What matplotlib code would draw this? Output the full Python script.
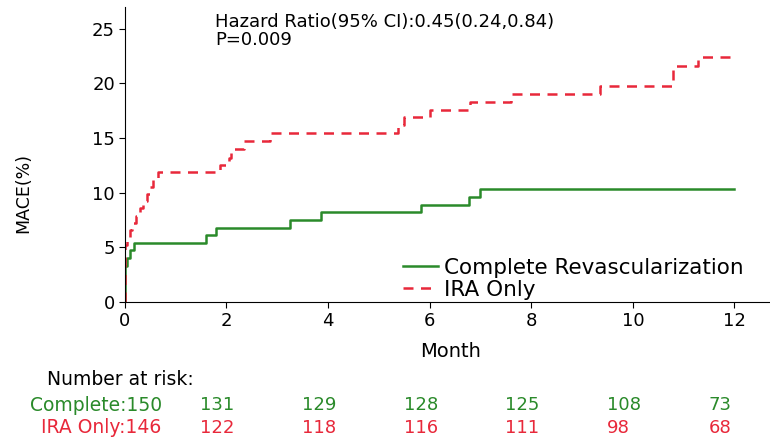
import numpy as np
import matplotlib.pyplot as plt

plt.rcParams['font.family'] = ['DejaVu Sans']

# step times (months) and cumulative MACE (%)
cr_t = [0, 0, 0.05, 0.10, 0.18, 1.59, 1.80, 3.25, 3.87, 5.84, 6.78, 7.00, 12.0]
cr_y = [0, 3.3, 4.0, 4.7, 5.4, 6.1, 6.8, 7.5, 8.2, 8.9, 9.6, 10.3, 10.3]

ira_t = [0, 0, 0.04, 0.10, 0.15, 0.22, 0.30, 0.36, 0.43, 0.50, 0.56, 0.66,
         1.87, 2.05, 2.10, 2.35, 2.85, 5.37, 5.50, 6.00, 6.79, 7.60, 9.35,
         10.80, 11.28, 12.0]
ira_y = [0, 5.2, 5.9, 6.6, 7.2, 7.9, 8.6, 9.2, 9.9, 10.5, 11.2, 11.9,
         12.5, 13.2, 14.0, 14.7, 15.5, 16.2, 16.9, 17.6, 18.3, 19.0, 19.8,
         21.6, 22.4, 22.4]

risk_months = [0, 2, 4, 6, 8, 10, 12]
risk_cr = [150, 131, 129, 128, 125, 108, 73]
risk_ira = [146, 122, 118, 116, 111, 98, 68]

green = '#2a8a2a'
red = '#e8283a'

fig = plt.figure(figsize=(7.7, 4.38), dpi=100)
ax = fig.add_axes([0.162, 0.311, 0.838, 0.673])

ax.plot(cr_t, cr_y, drawstyle='steps-post', color=green, lw=1.8,
        label='Complete Revascularization')
ax.plot(ira_t, ira_y, drawstyle='steps-post', color=red, lw=1.8,
        dashes=(4, 3), label='IRA Only')

ax.set_xlim(0, 12.7)
ax.set_ylim(0, 27)
ax.set_xticks([0, 2, 4, 6, 8, 10, 12])
ax.set_yticks([0, 5, 10, 15, 20, 25])
ax.tick_params(labelsize=13, length=4, width=0.8, pad=3)
ax.spines['top'].set_visible(False)
ax.spines['right'].set_visible(False)
ax.set_xlabel('Month', fontsize=14)
ax.xaxis.set_label_coords(0.505, -0.138)
ax.set_ylabel('MACE(%)', fontsize=12.5)
ax.yaxis.set_label_coords(-0.143, 0.37)

fig.text(0.279, 0.970, 'Hazard Ratio(95% CI):0.45(0.24,0.84)\nP=0.009',
         fontsize=13, va='top', ha='left', linespacing=1.02)

ax.legend(loc='upper left', bbox_to_anchor=(0.523, 0.412),
          bbox_transform=fig.transFigure, frameon=False,
          fontsize=15.5, handlelength=1.65, handletextpad=0.25,
          labelspacing=0.1, borderpad=0, borderaxespad=0)

# number at risk table
fig.text(0.061, 0.133, 'Number at risk:', fontsize=13.5, va='center')
fig.text(0.21, 0.075, 'Complete:%d' % risk_cr[0], fontsize=13.5,
         color=green, ha='right', va='center')
fig.text(0.21, 0.023, 'IRA Only:%d' % risk_ira[0], fontsize=13.5,
         color=red, ha='right', va='center')
for m, a, b in zip(risk_months[1:], risk_cr[1:], risk_ira[1:]):
    xp = ax.transData.transform((m - 0.51, 0))[0] / fig.bbox.width
    fig.text(xp, 0.075, str(a), fontsize=13, color=green,
             ha='left', va='center')
    fig.text(xp, 0.023, str(b), fontsize=13, color=red,
             ha='left', va='center')

fig.savefig('out.png', dpi=100)
